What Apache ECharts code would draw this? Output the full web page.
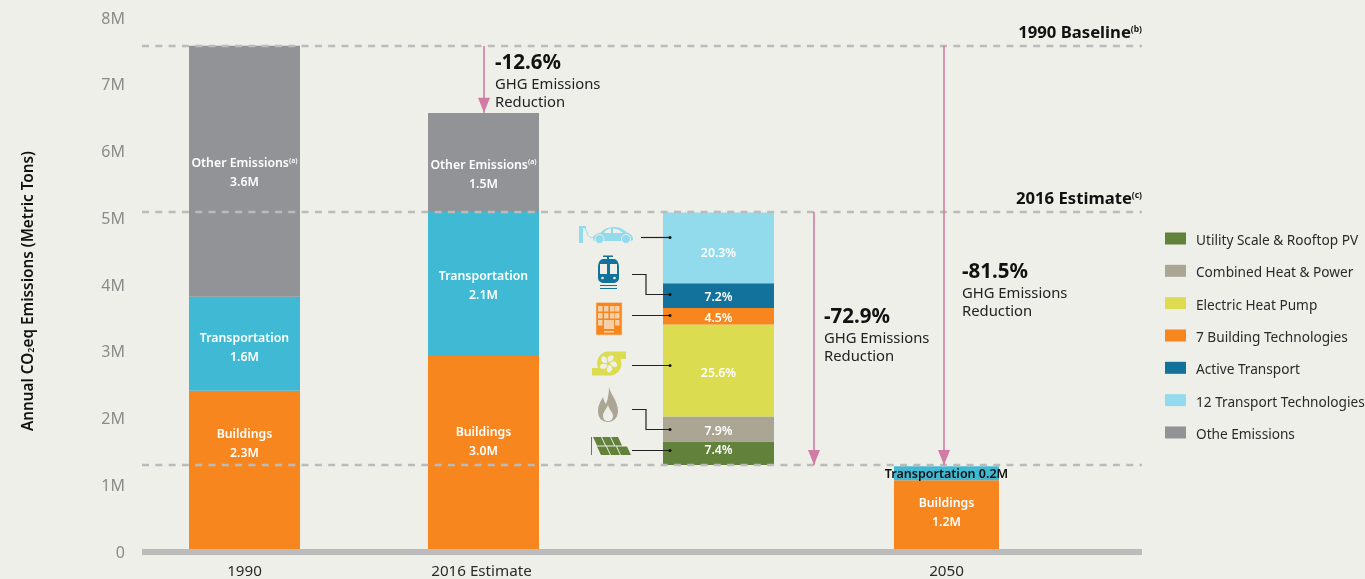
<!DOCTYPE html>
<html><head><meta charset="utf-8">
<style>html,body{margin:0;padding:0;background:#eeefe9}#c{width:1365px;height:579px}</style>
<script src="https://cdn.jsdelivr.net/npm/echarts@6/dist/echarts.min.js"></script>
</head><body><div id="c"></div>
<script>
// ---------- data ----------
const categories = ['1990', '2016 Estimate', '', '2050'];
const yTicks = [0, 1, 2, 3, 4, 5, 6, 7, 8];

const buildings = [2.37, 2.89, null, 1.03];
const transportation = [1.41, 2.16, null, 0.21];
const otherEmissions = [3.76, 1.48, null, null];
const buildingsText = ['2.3M', '3.0M', null, '1.2M'];
const transportationText = ['1.6M', '2.1M', null, '0.2M'];
const otherText = ['3.6M', '1.5M', null, null];

const wedgeBase = 1.26;
const wedgeNames = ['Utility Scale & Rooftop PV', 'Combined Heat & Power', 'Electric Heat Pump', '7 Building Technologies', 'Active Transport', '12 Transport Technologies'];
const wedgeValues = [0.35, 0.375, 1.38, 0.245, 0.37, 1.06];
const wedgeShares = ['7.4%', '7.9%', '25.6%', '4.5%', '7.2%', '20.3%'];

const baseline1990 = 7.535;
const estimate2016 = 5.05;
const target2050 = 1.26;
const top2016 = 6.535;
const reductions = ['-12.6%', '-72.9%', '-81.5%'];
const legendNames = [...wedgeNames, 'Othe Emissions'];

// ---------- styling ----------
const FONT = '"Noto Sans", sans-serif';
const BG = '#eeefe9';
const C = {building:'#f8861f', transport:'#40bad4', other:'#929396', dash:'#bbbbbb', pink:'#d27ba4',
  pv:'#62813b', chp:'#aba594', pump:'#dcdc50', active:'#12729c', tech:'#92dbec'};
const wedgeColors = [C.pv, C.chp, C.pump, C.building, C.active, C.tech];
const wedgeOffsets = [-4.5, 0, 1, 0, 0, 4];
const TOP = 15, H = 534;
const columns = [{left:189,width:111},{left:428,width:111},{left:663,width:111},{left:894,width:105}];

const grids = columns.map(c => ({left:c.left, width:c.width, top:TOP, height:H}));
grids.push({left:142, width:1000, top:TOP, height:H});
const MAIN = 4;

const xAxes = categories.map((name, i) => ({
  gridIndex:i, type:'category', data:[name], axisLine:{show:false}, axisTick:{show:false},
  axisLabel:{interval:0, margin:15, fontFamily:FONT, fontSize:15.2, color:'#2a2a2a', padding:[0, i===1?4:0, 0, 0]}
}));
xAxes.push({gridIndex:MAIN, type:'value', min:0, max:1000, offset:3, axisLine:{show:true, onZero:false, lineStyle:{color:C.dash, width:6, cap:'butt'}},
  axisTick:{show:false}, axisLabel:{show:false}, splitLine:{show:false}});

const yAxes = categories.map((_, i) => ({gridIndex:i, type:'value', min:0, max:8, show:false}));
yAxes.push({gridIndex:MAIN, type:'value', min:0, max:8, interval:1,
  axisLine:{show:false}, axisTick:{show:false}, splitLine:{show:false},
  axisLabel:{margin:17, 
    rich:{a:{fontFamily:FONT, fontSize:16, color:'#8b8b8b', padding:[8,0,0,0]}},
    formatter:v => '{a|' + (yTicks.includes(v) && v ? v + 'M' : '0') + '}'},
  name:'{n|Annual CO}{s|2}{n|eq Emissions (Metric Tons)}', nameLocation:'middle', nameRotate:90, nameGap:106,
  nameTextStyle:{padding:[0,18,0,0], rich:{n:{fontFamily:FONT, fontSize:15.3, fontWeight:600, color:'#111'},
    s:{fontFamily:FONT, fontSize:9, fontWeight:600, color:'#111', padding:[6,0,0,0]}}}
});

const whiteRich = {
  t:{fontFamily:FONT, fontSize:12.3, fontWeight:600, color:'#fff', lineHeight:19},
  u:{fontFamily:FONT, fontSize:7, fontWeight:600, color:'#fff', lineHeight:19, padding:[0,0,6,0]}
};
function bar(col, name, value, color, text, dy) {
  return {type:'bar', name, xAxisIndex:col, yAxisIndex:col, stack:'c'+col, barWidth:'100%', data:[value],
    itemStyle:{color}, silent:true, animation:false,
    label:{show:true, position:'inside', offset:[0,dy+2], rich:whiteRich, formatter:text}};
}
const series = [];
const sup = '{u|(a)}';
[0,1].forEach(i => {
  series.push(bar(i,'Buildings',buildings[i],C.building,`{t|Buildings}\n{t|${buildingsText[i]}}`, i ? -12.5 : -28));
  series.push(bar(i,'Transportation',transportation[i],C.transport,`{t|Transportation}\n{t|${transportationText[i]}}`, i ? -0.5 : 2.5));
  series.push(bar(i,'Othe Emissions',otherEmissions[i],C.other,`{t|Other Emissions}${sup}\n{t|${otherText[i]}}`, i ? 10 : 0));
});
// breakdown column: transparent base, then the wedges
series.push({type:'bar', name:'base', xAxisIndex:2, yAxisIndex:2, stack:'c2', barWidth:'100%', data:[wedgeBase],
  itemStyle:{color:'transparent'}, silent:true, animation:false});
wedgeNames.forEach((n, i) => series.push(bar(2,n,wedgeValues[i],wedgeColors[i],`{t|${wedgeShares[i]}}`,wedgeOffsets[i])));
// 2050
series.push(bar(3,'Buildings',buildings[3],C.building,`{t|Buildings}\n{t|${buildingsText[3]}}`,-4));
series.push({type:'bar', name:'Transportation', xAxisIndex:3, yAxisIndex:3, stack:'c3', barWidth:'100%', data:[transportation[3]],
  itemStyle:{color:C.transport}, silent:true, animation:false,
  label:{show:true, position:'inside', offset:[0,1], fontFamily:FONT, fontSize:12.5, fontWeight:600, color:'#111',
    formatter:'Transportation ' + transportationText[3]}});

// dashed reference lines + arrows in the full-width grid
const heading = (txt, s) => ({show:true, position:'insideEndTop', distance:[0,4], formatter:`{b|${txt}}{p|(${s})}`,
  rich:{b:{fontFamily:FONT,fontSize:16.7,fontWeight:700,color:'#111'},
        p:{fontFamily:FONT,fontSize:8.5,fontWeight:700,color:'#111',padding:[0,0,8,0]}}});
const arrow = (x, from, to) => [{xAxis:x, yAxis:from},{xAxis:x, yAxis:to}];
series.push({type:'line', name:'refs', xAxisIndex:MAIN, yAxisIndex:MAIN, data:[], z:5, silent:true, animation:false,
  markLine:{silent:true, animation:false, symbol:'none',
    lineStyle:{type:[7,6.3], color:C.dash, width:2.4},
    label:{show:false},
    data:[{yAxis:baseline1990, label:heading('1990 Baseline','b')},
          {yAxis:estimate2016, label:heading('2016 Estimate','c')},
          {yAxis:target2050}]}});
series.push({type:'line', name:'arrows', xAxisIndex:MAIN, yAxisIndex:MAIN, data:[], z:6, silent:true, animation:false,
  markLine:{silent:true, animation:false, symbol:['none','triangle'], symbolSize:[12,15], symbolOffset:[[0,0],[0,7.5]],
    lineStyle:{type:'solid', color:C.pink, width:1.6},
    label:{show:false},
    data:[arrow(342, baseline1990, top2016), arrow(672, estimate2016, target2050), arrow(802, baseline1990, target2050)]}});

// ---------- annotations ----------
const g = [];
function annotate(x, y, pct) {
  g.push({type:'text', left:x, top:y-13, style:{text:pct, fontFamily:FONT, fontSize:20.5, fontWeight:700, fill:'#111'}});
  g.push({type:'text', left:x, top:y+11, style:{text:'GHG Emissions', fontFamily:FONT, fontSize:14.8, fill:'#222'}});
  g.push({type:'text', left:x, top:y+29, style:{text:'Reduction', fontFamily:FONT, fontSize:14.8, fill:'#222'}});
}
annotate(495, 66, reductions[0]);
annotate(824, 320, reductions[1]);
annotate(962, 275, reductions[2]);

// leader lines
[[[641,237.5],[670,237.5]],
 [[632,274.5],[646,274.5],[646,294.5],[670,294.5]],
 [[632,315.5],[670,315.5]],
 [[632,365.5],[670,365.5]],
 [[632,409.5],[646,409.5],[646,429.5],[670,429.5]],
 [[632,450.5],[670,450.5]]].forEach(pts => {
  g.push({type:'polyline', z:10, shape:{points:pts}, style:{stroke:'#222', lineWidth:1.2, fill:'none'}});
  const e = pts[pts.length-1];
  g.push({type:'circle', z:10, shape:{cx:e[0], cy:e[1], r:1.5}, style:{fill:'#111'}});
});

// icons (drawn by a custom series so SVG path data can be used)
const parts = [];
function icon(d, fill, extra) {
  parts.push({type:'path', shape:{pathData:d}, style:Object.assign({fill}, extra||{})});
}
// car
icon('M579 226H586V228H583V243H579Z', C.tech);
icon('M583 227C588 228 586 240 594 237', 'none', {stroke:C.tech, lineWidth:1});
icon('M593 239C593 235 596 234 601 232.5C604 228.5 609 227 615 227C620 227 624 230 627 232.5C631 234 633 236 633 239C633 240 632 241 631 241H595C594 241 593 240 593 239Z', C.tech);
icon('M604 233C606 229.5 609 228.5 611 228.5V233Z M613 228.5C617 228.5 620 230.5 623 233H613Z', BG);
[[599.5,239],[626,239]].forEach(p => parts.push({type:'circle', shape:{cx:p[0],cy:p[1],r:4.5}, style:{fill:C.tech, stroke:BG, lineWidth:1}}));
// train
icon('M603 255.5H613V257H609V259.5H607V257H603Z', C.active);
icon('M603 259H614C617 259 619 263 619 267V278C619 281 616 283 613 283H604C601 283 598 281 598 278V267C598 263 600 259 603 259Z', C.active);
icon('M600 264H607V274H600Z M610 264H617V274H610Z', BG);
parts.push({type:'circle', shape:{cx:602.5,cy:278,r:1.3}, style:{fill:BG}});
parts.push({type:'circle', shape:{cx:614.5,cy:278,r:1.3}, style:{fill:BG}});
icon('M600 285H617V286H600Z M600 288H617V289H600Z', C.active);
// building
icon('M596 302.5H622V335H596Z', C.building, {stroke:'#f5d9bd', lineWidth:0.6});
[598,604,610,615].forEach(x => [306,313,320].forEach(y => {
  if (!(y===320 && (x===604||x===610)))
    parts.push({type:'rect', shape:{x, y, width:4.5, height:5.5}, style:{fill:'#f7cfa6'}});
}));
icon('M604 320H614V329H604Z M604 331H614V332.5H604Z', '#f7cfa6');
// heat pump
icon('M608 351.5H626V359H620.5A12 12 0 0 1 608 375.5H592V368H598A12 12 0 0 1 608 351.5Z', C.pump);
for (let k = 0; k < 5; k++) {
  parts.push({type:'path', rotation:-k*2*Math.PI/5, originX:608.3, originY:363.5,
    shape:{pathData:'M608.3 362C606 357 609 355 613 355.5C615 358 613 361 608.3 362Z'}, style:{fill:BG}});
}
// flame
icon('M609 386.5C610 394 618 401 618 411C618 418 613 422 608 422C602 422 598 418 598 411C598 405 601 401 603 397C604 401 605 403 606 404C608 399 609 393 609 386.5Z', C.chp);
icon('M608 405C609 410 613 412 613 416C613 419 611 421 608 421C605 421 603 419 603 416C603 412 606 410 608 405Z', BG);
// solar panel
icon('M591 437H592V455H591Z', C.pv);
[[593,437,601,445.5],[602,437,610,445.5],[611,437,618,445.5],[597,446.5,606,455],[607,446.5,616,455],[617,446.5,627,455]].forEach(r => {
  const sk = 4;
  parts.push({type:'polygon', shape:{points:[[r[0],r[1]],[r[2],r[1]],[r[2]+sk,r[3]],[r[0]+sk,r[3]]]}, style:{fill:C.pv}});
});
series.push({type:'custom', name:'icons', coordinateSystem:'none', data:[[0]], silent:true, z:9, animation:false,
  renderItem:() => ({type:'group', children:parts})});

const chart = echarts.init(document.getElementById('c'), null, {renderer:'canvas'});
chart.setOption({
  backgroundColor:BG, animation:false,
  textStyle:{fontFamily:FONT},
  grid:grids, xAxis:xAxes, yAxis:yAxes, series, graphic:{elements:g},
  legend:{show:true, orient:'vertical', left:1165, top:229, icon:'rect', itemWidth:21, itemHeight:12, itemGap:13.33,
    selectedMode:false, data:legendNames, padding:0, formatter:n => '{a|' + n + '}',
    textStyle:{rich:{a:{fontFamily:FONT, fontSize:13.65, color:'#2a2a2a', padding:[5,0,0,5], lineHeight:19}}}}
});
</script></body></html>
